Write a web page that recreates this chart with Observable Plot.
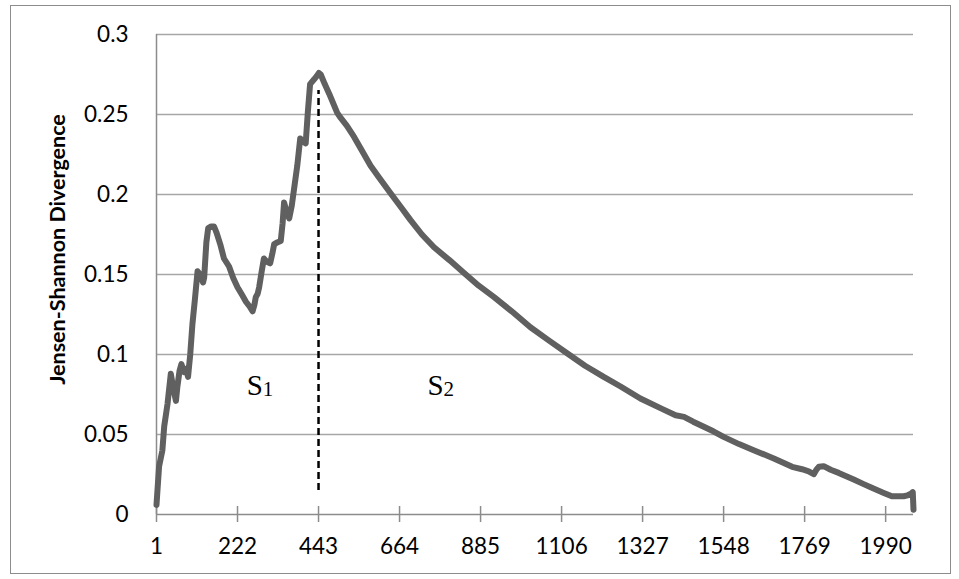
<!DOCTYPE html>
<html><head><meta charset="utf-8">
<script src="https://cdn.jsdelivr.net/npm/d3@7"></script>
<script src="https://cdn.jsdelivr.net/npm/@observablehq/plot@0.6"></script>
<style>
body{margin:0;background:#fff}
#wrap{position:relative;width:959px;height:579px}
#border{position:absolute;left:10px;top:5px;width:939px;height:567px;border:1.5px solid #8c8c8c;pointer-events:none}
</style>
</head><body><div id="wrap"><div id="border"></div></div>
<script>
// Window index (x) and Jensen-Shannon divergence (y)
const idx = [1,8,17,22,31,40,46,54,58,64,69,76,82,87,93,99,106,113,120,128,131,137,142,150,158,165,176,185,199,210,222,235,245,255,263,268,272,277,281,288,294,302,311,317,322,330,340,345,349,356,363,370,376,385,393,400,408,414,420,431,438,444,449,460,472,494,503,520,540,560,585,610,640,665,694,725,758,800,840,880,921,970,1021,1070,1122,1170,1221,1267,1321,1380,1417,1440,1465,1494,1520,1548,1590,1630,1685,1735,1762,1780,1794,1801,1808,1821,1840,1862,1903,1930,1957,1985,2007,2039,2050,2059,2064,2066];
const jsd = [0.006,0.03,0.04,0.055,0.069,0.088,0.080,0.071,0.080,0.090,0.094,0.089,0.091,0.086,0.100,0.119,0.135,0.152,0.150,0.145,0.148,0.170,0.179,0.180,0.180,0.176,0.168,0.160,0.155,0.148,0.142,0.137,0.133,0.130,0.127,0.131,0.136,0.138,0.142,0.152,0.160,0.158,0.157,0.163,0.169,0.170,0.171,0.182,0.195,0.189,0.185,0.193,0.203,0.218,0.235,0.233,0.232,0.252,0.269,0.272,0.274,0.276,0.275,0.269,0.263,0.251,0.248,0.243,0.236,0.228,0.218,0.210,0.2006,0.193,0.184,0.175,0.167,0.159,0.151,0.143,0.136,0.127,0.117,0.109,0.1006,0.093,0.086,0.080,0.0725,0.066,0.062,0.061,0.058,0.0548,0.052,0.0485,0.044,0.0402,0.035,0.0298,0.0283,0.027,0.0252,0.028,0.0298,0.0302,0.028,0.026,0.0219,0.019,0.0162,0.0135,0.0114,0.0114,0.012,0.013,0.014,0.003];
const xTicks = [1,222,443,664,885,1106,1327,1548,1769,1990];
const yTicks = [0,0.05,0.1,0.15,0.2,0.25,0.3];
const yTickLabels = ["0","0.05","0.1","0.15","0.2","0.25","0.3"];
const boundaryX = [443];
const boundaryFrom = 0.015, boundaryTo = 0.265;
const segMain = ["S","S"];
const segSub = ["1","2"];
const segX = [247,740];
const segY = [0.075,0.075];
const yTitle = "Jensen-Shannon Divergence";
const xMax = 2066;

const series = idx.map((x,i)=>({x, y: jsd[i]}));
const segs = segMain.map((m,i)=>({x: segX[i], y: segY[i], main: m, sub: segSub[i]}));
const gridY = yTicks.filter(d=>d>0);

const chart = Plot.plot({
  width: 959, height: 579,
  marginLeft: 156, marginRight: 46, marginTop: 34, marginBottom: 65,
  style: {fontFamily: "Lato", fontSize: "22px", color: "#000", background: "#fff"},
  x: {type: "linear", domain: [1, xMax]},
  y: {domain: [0, 0.3]},
  marks: [
    Plot.ruleY(gridY, {stroke: "#a6a6a6", strokeWidth: 1.5}),
    Plot.ruleY([0], {stroke: "#8c8c8c", strokeWidth: 1.5}),
    Plot.ruleX([1], {stroke: "#8c8c8c", strokeWidth: 1.5}),
    Plot.ruleX(xTicks, {x: d=>d, y1: 0, y2: 0, insetTop: -8, insetBottom: -8, stroke: "#8c8c8c", strokeWidth: 1.5}),
    Plot.axisX({ticks: xTicks, tickSize: 0, tickPadding: 24, tickFormat: d => String(d), label: null, fontSize: 22.5}),
    Plot.axisY({ticks: yTicks, tickSize: 0, tickPadding: 28, tickFormat: d => yTickLabels[yTicks.indexOf(d)], label: null, fontSize: 22.5}),
    Plot.ruleX(boundaryX, {x: d=>d, y1: boundaryFrom, y2: boundaryTo, stroke: "#000", strokeWidth: 2.5, strokeDasharray: "7,4"}),
    Plot.line(series, {x: "x", y: "y", stroke: "#606060", strokeWidth: 6, strokeLinejoin: "round", strokeLinecap: "round"}),
    Plot.text(segs, {x: "x", y: "y", text: "main", textAnchor: "start", lineAnchor: "bottom", fontFamily: "Liberation Serif", fontSize: 29, fill: "#000"}),
    Plot.text(segs, {x: "x", y: "y", text: "sub", textAnchor: "start", lineAnchor: "bottom", dx: 16, dy: 1, fontFamily: "Liberation Serif", fontSize: 21, fill: "#000"}),
    Plot.text([yTitle], {text: d=>d, frameAnchor: "left", textAnchor: "middle", dx: -98, dy: -25, rotate: -90, fontWeight: "bold", fontSize: 21.5, fill: "#000"})
  ]
});
document.getElementById("wrap").appendChild(chart);
</script>
</body></html>
